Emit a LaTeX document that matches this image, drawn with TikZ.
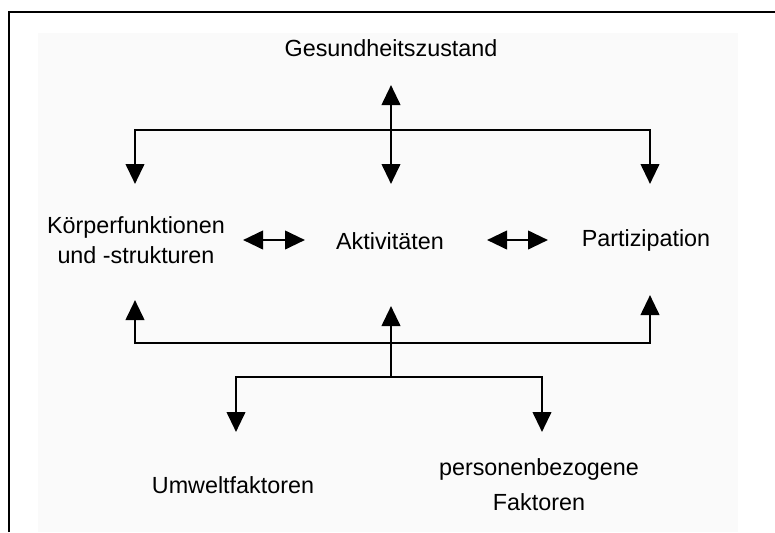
\documentclass[tikz,border=0pt]{standalone}
\usepackage{fontspec}
\setmainfont{Liberation Sans}
\usetikzlibrary{arrows.meta}

\begin{document}
\begin{tikzpicture}
    % Define styles
    \tikzstyle{fact}=[font=\fontsize{16.6}{21}\selectfont, align=center, inner sep=0pt]
    \tikzstyle{bar}=[line width=2pt]
    \tikzstyle{pointer}=[bar, -{Triangle[width=0.46cm, length=0.5cm]}]
    \tikzstyle{pair}=[bar, {Triangle[width=0.46cm, length=0.5cm]}-{Triangle[width=0.46cm, length=0.5cm]}]

    % Frame and shaded paper
    \useasboundingbox (0,0) rectangle (19.375,-13.3);
    \fill[black!2] (0.95,-0.825) rectangle (18.45,-13.3);
    \draw[line width=1.4pt] (0.225,-13.3) -- (0.225,-0.3) -- (19.375,-0.3);

    % Texts
    \node[fact] (health) at (9.775,-1.2) {Gesundheitszustand};
    \node[fact] (body) at (3.4,-6.0) {Körperfunktionen\\und -strukturen};
    \node[fact] (activity) at (9.75,-6.025) {Aktivitäten};
    \node[fact] (participation) at (16.15,-6.0) {Partizipation};
    \node[fact] (environment) at (5.825,-12.125) {Umweltfaktoren};
    \node[fact] (personal) at (13.475,-12.125) {personenbezogene\\[4pt]Faktoren};

    % Arrow ends (free ends of the connectors)
    \coordinate (healthin) at (9.775,-2.125);
    \foreach \n/\x in {body/3.375, activity/9.775, participation/16.25} {
        \coordinate (\n top) at (\x,-4.6);
    }
    \coordinate (bodybottom) at (3.375,-7.5);
    \coordinate (activitybottom) at (9.775,-7.65);
    \coordinate (participationbottom) at (16.25,-7.375);
    \coordinate (environmenttop) at (5.9,-10.8);
    \coordinate (personaltop) at (13.55,-10.8);

    % Junctions
    \coordinate (hub) at (9.775,-3.25);
    \coordinate (low) at (9.775,-8.575);
    \coordinate (fork) at (9.775,-9.425);

    % Upper branch
    \draw[pointer] (hub) -- (healthin);
    \draw[pointer] (hub) -| (bodytop);
    \draw[pointer] (hub) -- (activitytop);
    \draw[pointer] (hub) -| (participationtop);

    % Interactions between the components
    \coordinate (bodyright) at (6.075,-6.0);
    \coordinate (activityleft) at (7.625,-6.0);
    \coordinate (activityright) at (12.175,-6.0);
    \coordinate (participationleft) at (13.7,-6.0);
    \draw[pair] (bodyright) -- (activityleft);
    \draw[pair] (activityright) -- (participationleft);

    % Lower branch: context factors
    \draw[pointer] (low) -| (bodybottom);
    \draw[pointer] (low) -- (activitybottom);
    \draw[pointer] (low) -| (participationbottom);
    \draw[bar] (low) -- (fork);
    \draw[pointer] (fork) -| (environmenttop);
    \draw[pointer] (fork) -| (personaltop);
\end{tikzpicture}
\end{document}
